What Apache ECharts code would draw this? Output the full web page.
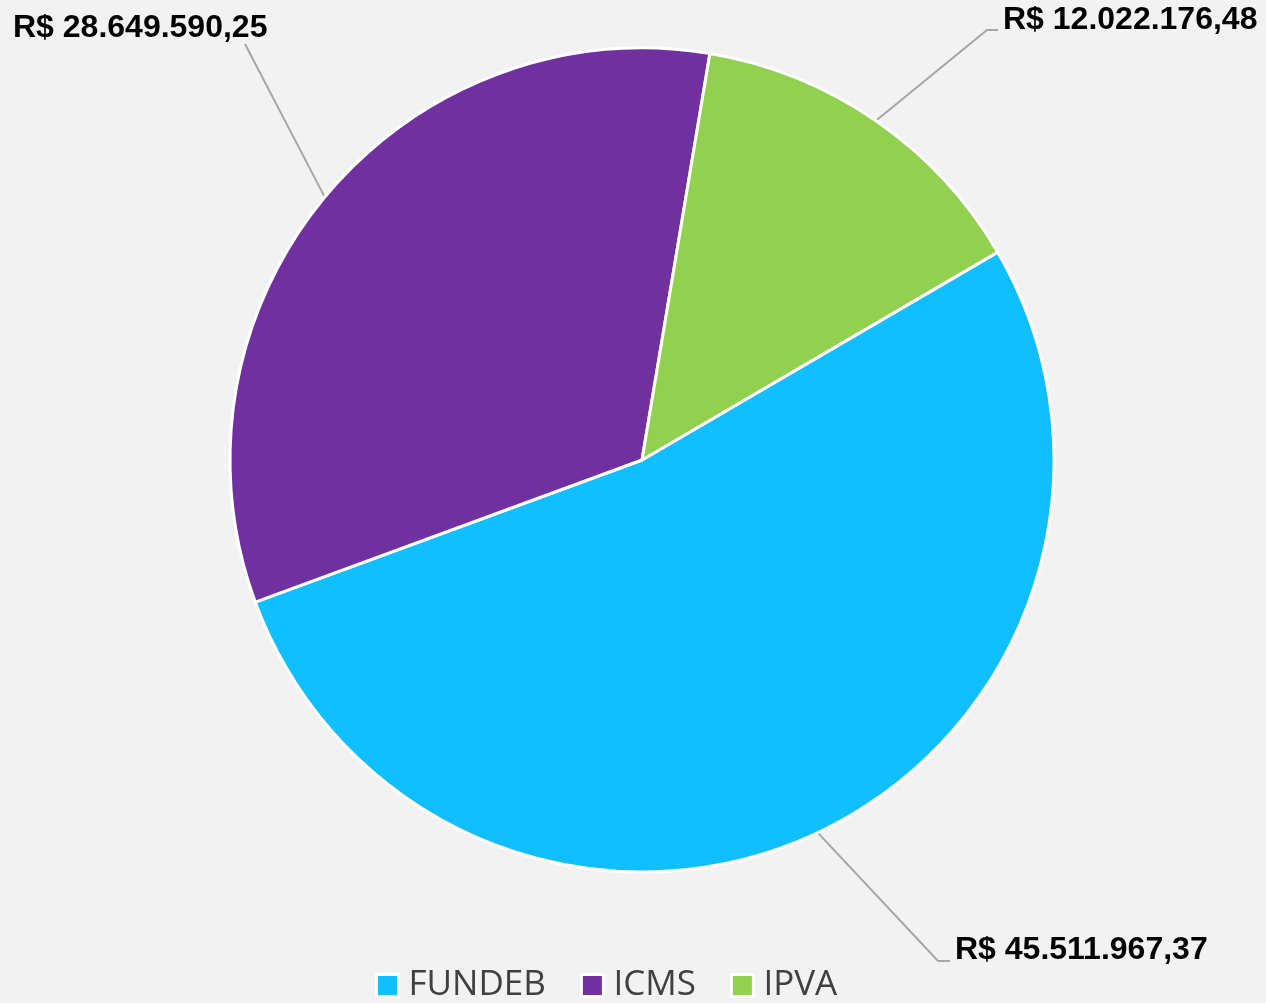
<!DOCTYPE html>
<html>
<head>
<meta charset="utf-8">
<script src="https://cdn.jsdelivr.net/npm/echarts@6/dist/echarts.min.js"></script>
<style>
html,body{margin:0;padding:0;background:#f2f2f2;}
#chart{width:1266px;height:1003px;}
</style>
</head>
<body>
<div id="chart"></div>
<script>
const categories = ['FUNDEB', 'ICMS', 'IPVA'];
const values = [45511967.37, 28649590.25, 12022176.48];
const colors = ['#0fbfff', '#7030a0', '#92d050'];

function brl(v) {
  const parts = v.toFixed(2).split('.');
  const intPart = parts[0].replace(/\B(?=(\d{3})+(?!\d))/g, '.');
  return 'R$ ' + intPart + ',' + parts[1];
}

// label placement (layout only)
const labelPos = [
  { x: 955, y: 950, elbow: [938, 961], end: [950, 961] },
  { x: 13, y: 28, elbow: [245, 44], end: [245, 44] },
  { x: 1003, y: 20, elbow: [987, 30], end: [998, 30] }
];

const chart = echarts.init(document.getElementById('chart'), null, { renderer: 'canvas' });
chart.setOption({
  backgroundColor: '#f2f2f2',
  animation: false,
  legend: {
    left: 375,
    top: 968,
    padding: 0,
    itemWidth: 22,
    itemHeight: 22,
    itemGap: 34,
    icon: 'rect',
    data: categories,
    itemStyle: { borderColor: '#ffffff', borderWidth: 3 },
    textStyle: {
      fontFamily: 'Open Sans',
      fontSize: 35,
      lineHeight: 22,
      color: '#404040',
      padding: [0, 0, 0, 5]
    }
  },
  series: [{
    type: 'pie',
    center: [642, 460],
    radius: 412,
    startAngle: 30.3,
    clockwise: true,
    avoidLabelOverlap: false,
    itemStyle: { borderColor: '#ffffff', borderWidth: 3 },
    label: {
      show: true,
      position: 'outside',
      formatter: p => brl(p.value),
      fontFamily: 'Liberation Sans',
      fontWeight: 'bold',
      fontSize: 32,
      color: '#000000'
    },
    labelLine: {
      show: true,
      length: 20,
      length2: 10,
      lineStyle: { color: '#a6a6a6', width: 2 }
    },
    labelLayout: function (params) {
      const lp = labelPos[params.dataIndex];
      const start = params.labelLinePoints ? params.labelLinePoints[0] : lp.elbow;
      return {
        x: lp.x,
        y: lp.y,
        align: 'left',
        verticalAlign: 'middle',
        labelLinePoints: [start, lp.elbow, lp.end]
      };
    },
    data: categories.map((c, i) => ({ name: c, value: values[i], itemStyle: { color: colors[i] } }))
  }]
});
</script>
</body>
</html>
